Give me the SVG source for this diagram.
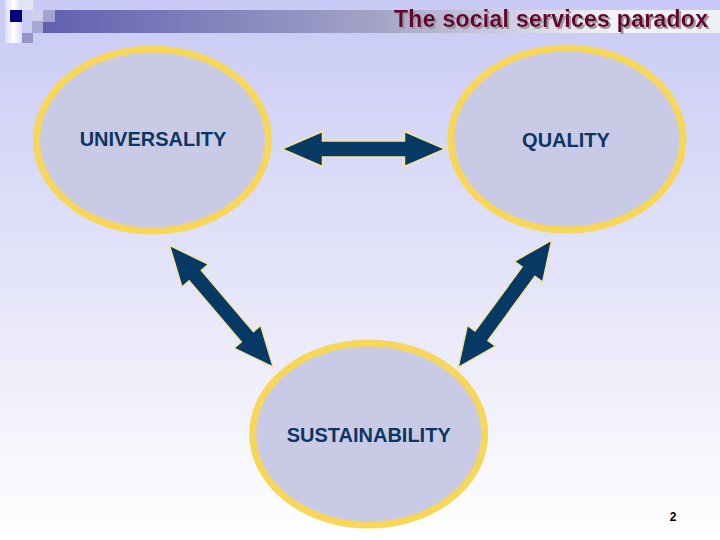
<svg xmlns="http://www.w3.org/2000/svg" width="720" height="540" viewBox="0 0 720 540">
  <defs>
    <linearGradient id="bg" x1="0" y1="0" x2="0" y2="1">
      <stop offset="0" stop-color="#c9caf5"/>
      <stop offset="0.55" stop-color="#e6e6f9"/>
      <stop offset="1" stop-color="#ffffff"/>
    </linearGradient>
    <linearGradient id="bar" x1="0" y1="0" x2="1" y2="0">
      <stop offset="0" stop-color="#6060b0"/>
      <stop offset="0.5" stop-color="#a4a4c8"/>
      <stop offset="0.85" stop-color="#f4f4f8"/>
      <stop offset="1" stop-color="#eeeef6"/>
    </linearGradient>
    <linearGradient id="strip" x1="0" y1="0" x2="1" y2="0">
      <stop offset="0" stop-color="#dcdcf4"/>
      <stop offset="0.5" stop-color="#ffffff"/>
      <stop offset="1" stop-color="#dcdcf4"/>
    </linearGradient>
    <filter id="shadow" x="-5%" y="-30%" width="110%" height="160%">
      <feDropShadow dx="2" dy="2" stdDeviation="0.3" flood-color="#9a9a9a" flood-opacity="1"/>
    </filter>
    <polygon id="arrow" points="-81.5,0 -41,-17.5 -41,-8 41,-8 41,-17.5 81.5,0 41,17.5 41,8 -41,8 -41,17.5"/>
  </defs>
  <style>
    .node ellipse { fill: #c9cbe6; stroke: #f7d75a; stroke-width: 7; }
    .node text { font-family: "Liberation Sans", Arial, sans-serif; font-weight: bold; font-size: 20px; fill: #0b3563; text-anchor: middle; }
    .conn use { fill: #063963; stroke: #f2e5a0; stroke-width: 1.5; stroke-linejoin: miter; }
    .title { font-family: "Liberation Sans", Arial, sans-serif; font-weight: bold; font-size: 23px; }
  </style>

  <rect x="0" y="0" width="720" height="540" fill="url(#bg)"/>

  <!-- header decoration -->
  <g id="header">
    <rect x="5" y="0" width="17" height="43" fill="url(#strip)"/>
    <rect x="22" y="0" width="11" height="10" fill="#e4e4f6"/>
    <rect x="43" y="10" width="677" height="23" fill="url(#bar)"/>
    <rect x="10" y="10" width="12" height="12" fill="#000080"/>
    <rect x="32" y="10" width="11" height="11" fill="#d0d0ea"/>
    <rect x="43" y="10" width="12" height="12" fill="#a4a4d2"/>
    <rect x="32" y="21" width="11" height="12" fill="#a8a8d4"/>
    <rect x="22" y="33" width="11" height="10" fill="#9494c6"/>
    <text class="title" x="394" y="27" textLength="314" lengthAdjust="spacing" fill="#660033" filter="url(#shadow)">The social services paradox</text>
  </g>

  <g id="connectors" class="conn">
    <use href="#arrow" transform="translate(363.5,149)"/>
    <use href="#arrow" transform="translate(221.3,306.2) rotate(49.55) scale(0.98,1)"/>
    <use href="#arrow" transform="translate(505,303.7) rotate(126.3) scale(0.97,1)"/>
  </g>

  <g id="universality" class="node">
    <ellipse cx="152.5" cy="140" rx="116" ry="91"/>
    <text x="153" y="146">UNIVERSALITY</text>
  </g>
  <g id="quality" class="node">
    <ellipse cx="567" cy="139" rx="116" ry="91"/>
    <text x="566" y="147">QUALITY</text>
  </g>
  <g id="sustainability" class="node">
    <ellipse cx="368.7" cy="434" rx="116" ry="91"/>
    <text x="368.7" y="442">SUSTAINABILITY</text>
  </g>

  <text x="673" y="521" font-family="'Liberation Sans', Arial, sans-serif" font-weight="bold" font-size="12" text-anchor="middle" fill="#000000">2</text>
</svg>
